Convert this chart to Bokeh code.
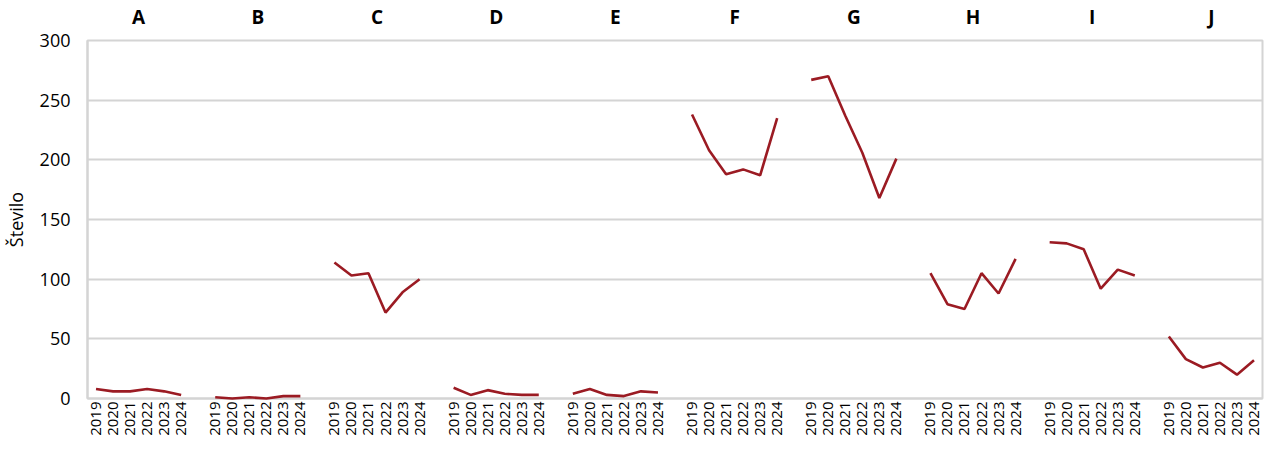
import math
from bokeh.plotting import figure
from bokeh.models import Range1d, FixedTicker, LinearAxis, ColumnDataSource
from bokeh.embed import file_html
from bokeh.resources import INLINE

groups = ["A", "B", "C", "D", "E", "F", "G", "H", "I", "J"]
years = ["2019", "2020", "2021", "2022", "2023", "2024"]
values = {
    "A": [8, 6, 6, 8, 6, 3],
    "B": [1, 0, 1, 0, 2, 2],
    "C": [114, 103, 105, 72, 89, 100],
    "D": [9, 3, 7, 4, 3, 3],
    "E": [4, 8, 3, 2, 6, 5],
    "F": [238, 208, 188, 192, 187, 235],
    "G": [267, 270, 237, 206, 168, 201],
    "H": [105, 79, 75, 105, 88, 117],
    "I": [131, 130, 125, 92, 108, 103],
    "J": [52, 33, 26, 30, 20, 32],
}
y_ticks = [0, 50, 100, 150, 200, 250, 300]

SLOT = len(years) + 1
n_slots = len(groups) * SLOT - 1
FONT = "Open Sans"
GRID = "#d4d4d4"
RED = "#9b1b23"

p = figure(width=1268, height=438, output_backend="svg", toolbar_location=None,
           x_range=Range1d(0, n_slots), y_range=Range1d(0, 300),
           min_border_left=80, min_border_right=6, min_border_top=32, min_border_bottom=0)

tick_pos = []
overrides = {}
for gi, g in enumerate(groups):
    xs = [gi * SLOT + j + 0.5 for j in range(len(years))]
    for x, yr in zip(xs, years):
        tick_pos.append(x)
        overrides[x] = yr
    src = ColumnDataSource(dict(x=xs, y=values[g]))
    p.line("x", "y", source=src, line_color=RED, line_width=2.6, level="overlay")

p.xaxis.ticker = FixedTicker(ticks=tick_pos)
p.xaxis.major_label_overrides = overrides
p.xaxis.major_label_orientation = math.pi / 2
p.xaxis.major_label_text_font = FONT
p.xaxis.major_label_text_font_size = "15px"
p.xaxis.major_label_text_color = "#000000"
p.xaxis.major_label_standoff = 3
p.xaxis.axis_label_standoff = 0
p.xaxis.major_tick_out = 0
p.xaxis.major_tick_in = 0
p.xaxis.major_tick_line_color = None
p.xaxis.minor_tick_line_color = None
p.xaxis.axis_line_color = GRID
p.xaxis.axis_line_width = 2
p.xgrid.grid_line_color = None

p.yaxis.ticker = FixedTicker(ticks=y_ticks)
p.yaxis.major_label_text_font = FONT
p.yaxis.major_label_text_font_size = "18px"
p.yaxis.major_label_text_color = "#000000"
p.yaxis.major_label_standoff = 17
p.yaxis.major_tick_out = 0
p.yaxis.major_tick_in = 0
p.yaxis.major_tick_line_color = None
p.yaxis.minor_tick_line_color = None
p.yaxis.axis_line_color = GRID
p.yaxis.axis_line_width = 2
p.yaxis.axis_label = "Število"
p.yaxis.axis_label_text_font = FONT
p.yaxis.axis_label_text_font_size = "18px"
p.yaxis.axis_label_text_font_style = "normal"
p.yaxis.axis_label_text_color = "#000000"
p.yaxis.axis_label_standoff = 9
p.ygrid.ticker = FixedTicker(ticks=y_ticks)
p.ygrid.grid_line_color = GRID
p.ygrid.grid_line_width = 2

p.outline_line_color = GRID
p.outline_line_width = 2

centers = [gi * SLOT + (len(years)) / 2 for gi in range(len(groups))]
top = LinearAxis(ticker=FixedTicker(ticks=centers),
                 major_label_overrides={c: g for c, g in zip(centers, groups)})
top.major_label_text_font = FONT
top.major_label_text_font_size = "19px"
top.major_label_text_font_style = "bold"
top.major_label_text_color = "#000000"
top.major_label_standoff = 11
top.axis_label_standoff = 0
top.major_tick_out = 0
top.major_tick_in = 0
top.axis_line_color = None
top.major_tick_line_color = None
top.minor_tick_line_color = None
p.add_layout(top, "above")

open("out.html", "w").write(file_html(p, INLINE))
